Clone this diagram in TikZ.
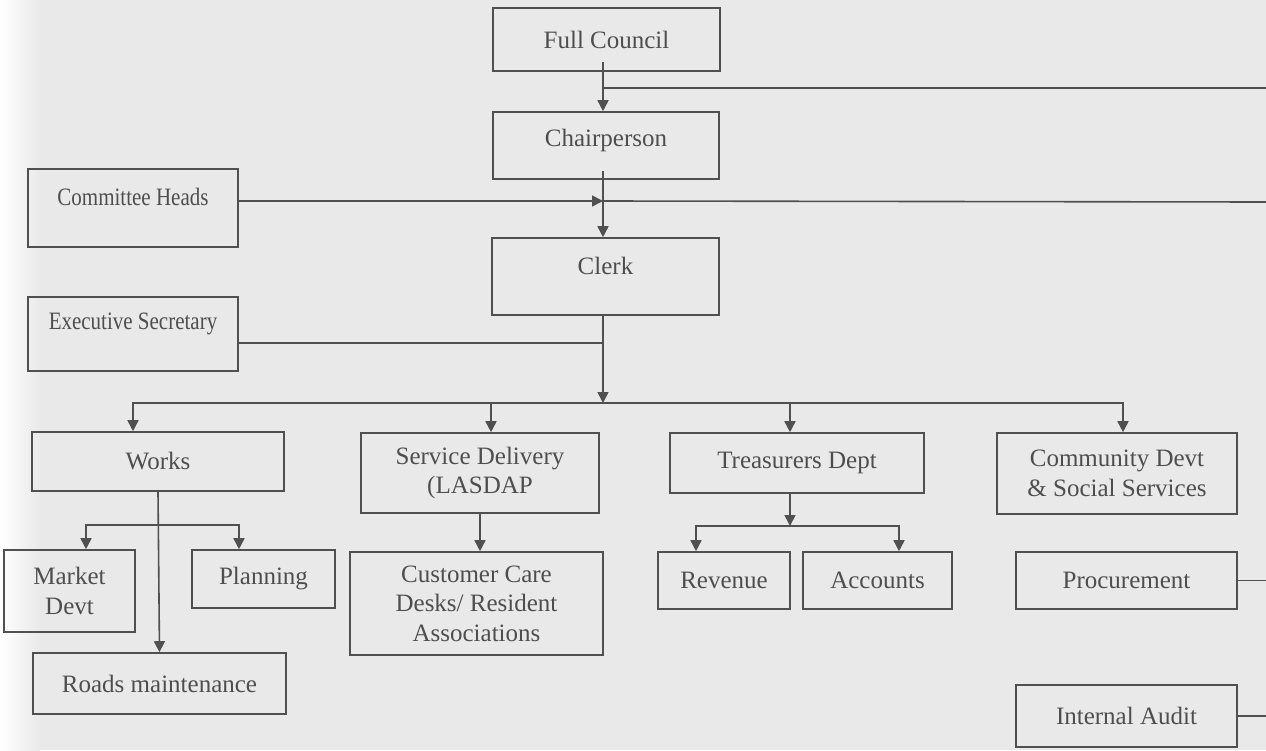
\documentclass[tikz,border=0pt]{standalone}
\usepackage{fontspec}
\setmainfont{Liberation Serif}
\usetikzlibrary{arrows.meta,calc}
\definecolor{bgc}{RGB}{233,233,233}
\definecolor{linec}{RGB}{80,80,80}
\definecolor{textc}{RGB}{78,78,78}
\begin{document}
\begin{tikzpicture}[x=1pt,y=-1pt,
  box/.style={draw=linec,line width=1.6pt,inner sep=0pt,align=center,text=textc,font=\fontsize{25}{29.5}\selectfont},
  lbl/.style={inner sep=0pt,align=center,text=textc,font=\fontsize{25}{29.5}\selectfont},
  ln/.style={draw=linec,line width=1.6pt},
  arr/.style={ln,-{Triangle[width=11pt,length=11pt]}}]
\fill[bgc] (0,0) rectangle (1266,750);
\shade[left color=white,right color=bgc] (0,0) rectangle (40,750);
\useasboundingbox (0,0) rectangle (1266,750);

% top chain
\node[box,minimum width=227pt,minimum height=63pt] (fc) at (606.5,39.5) {Full Council};
\node[box,minimum width=226pt,minimum height=67pt,label={[lbl,yshift=5pt]center:Chairperson}] (ch) at (606,145.5) {};
\node[box,minimum width=227pt,minimum height=77pt,label={[lbl,yshift=11pt]center:Clerk}] (clerk) at (605.5,276.5) {};

% left side
\node[box,minimum width=210pt,minimum height=78pt,label={[lbl,yshift=11pt]center:\scalebox{0.84}[1]{Committee Heads}}] (com) at (133,208) {};
\node[box,minimum width=210pt,minimum height=74pt,label={[lbl,yshift=10pt]center:\scalebox{0.84}[1]{Executive Secretary}}] (exe) at (133,334) {};

% departments
\node[box,minimum width=252pt,minimum height=59pt] (works) at (158,461.5) {Works};
\node[box,minimum width=238pt,minimum height=80pt] (sd) at (480,473) {Service Delivery\\(LASDAP};
\node[box,minimum width=254pt,minimum height=60pt] (td) at (797,463) {Treasurers Dept};
\node[box,minimum width=240pt,minimum height=81pt] (cd) at (1117,473.5) {Community Devt\\\& Social Services};

% sub units
\node[box,minimum width=131pt,minimum height=82pt] (md) at (69.5,591) {Market\\Devt};
\node[box,minimum width=143pt,minimum height=58pt] (pl) at (263.5,579) {Planning};
\node[box,minimum width=253pt,minimum height=61pt] (roads) at (159.5,683.5) {Roads maintenance};
\node[box,minimum width=253pt,minimum height=103pt] (cc) at (476.5,603.5) {Customer Care\\Desks/ Resident\\Associations};
\node[box,minimum width=132pt,minimum height=57pt] (rev) at (724,580.5) {Revenue};
\node[box,minimum width=149pt,minimum height=57pt] (acc) at (877.5,580.5) {Accounts};
\node[box,minimum width=221pt,minimum height=57pt] (proc) at (1126.5,580.5) {Procurement};
\node[box,minimum width=221pt,minimum height=62pt] (ia) at (1126.5,716) {Internal Audit};

% junctions and free ends
\coordinate (j1) at (603,88);
\coordinate (e1) at (1266,88);
\coordinate (j2) at (603,201);
\coordinate (e2) at (1266,202);
\coordinate (j3) at (603,343);
\coordinate (j4) at (603,403);
\coordinate (j5) at (158,525);
\coordinate (j6) at (790,526);
\coordinate (e3) at (1266,580.5);
\coordinate (e4) at (1266,716);

% spine
\draw[arr] ([xshift=-3.5pt,yshift=10pt]fc.south) -- ([xshift=-3pt]ch.north);
\draw[ln] (j1) -- (e1);
\draw[arr] ([xshift=-3pt,yshift=9pt]ch.south) -- ([xshift=-2.5pt]clerk.north);
\draw[arr] ([yshift=7pt]com.east) -- (j2);
\draw[ln] (j2) -- (e2);
\draw[ln] ([yshift=-9pt]exe.east) -- (j3);
\draw[arr] ([xshift=-2.5pt]clerk.south) -- (j4);

% bus to departments
\draw[arr] (j4) -| ([xshift=-25pt]works.north);
\draw[arr] (j4) -| ([xshift=11pt]sd.north);
\draw[arr] (j4) -| ([xshift=-7pt]td.north);
\draw[arr] (j4) -| ([xshift=6pt]cd.north);

% works
\draw[arr] (works.south) -- (roads.north);
\draw[arr] (j5) -| ([xshift=16.5pt]md.north);
\draw[arr] (j5) -| ([xshift=-24.5pt]pl.north);

% service delivery
\draw[arr] (sd.south) -- (sd.south |- cc.north);

% treasurers
\draw[arr] ([xshift=-7pt]td.south) -- (j6);
\draw[arr] (j6) -| ([xshift=-28pt]rev.north);
\draw[arr] (j6) -| ([xshift=21.5pt]acc.north);

% right side
\draw[ln] (proc.east) -- (e3);
\draw[ln] (ia.east) -- (e4);
\end{tikzpicture}
\end{document}
